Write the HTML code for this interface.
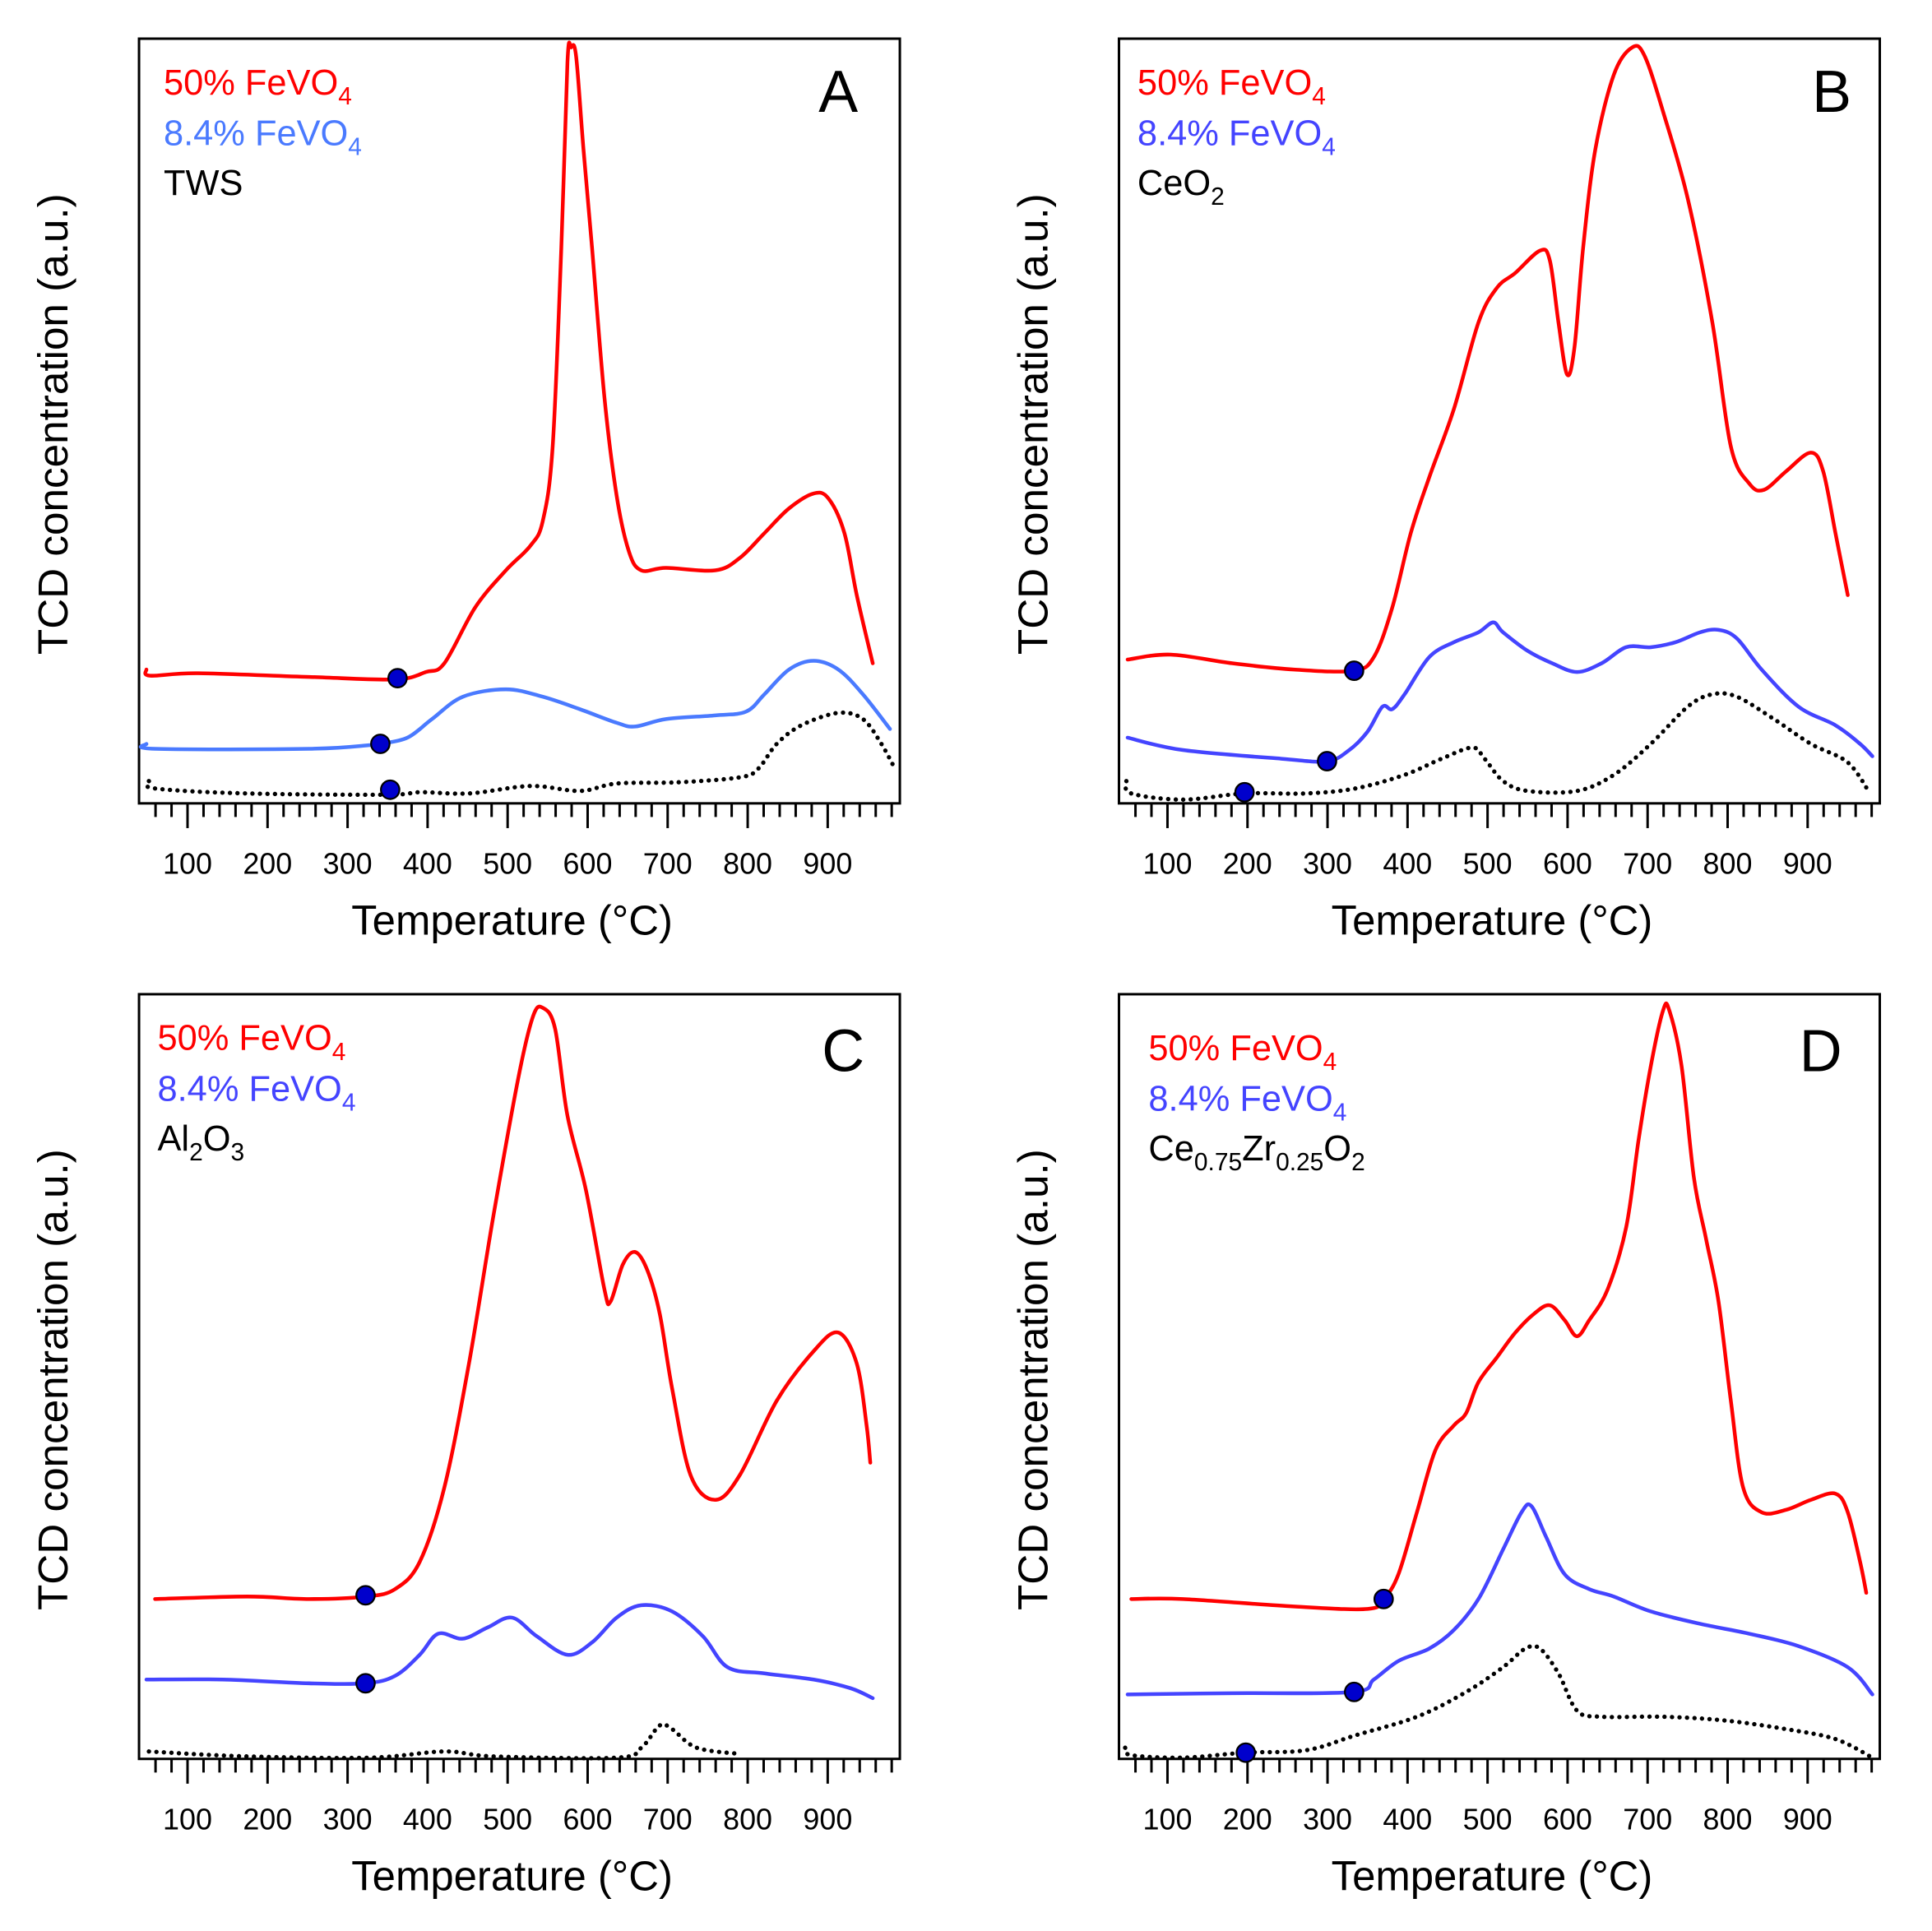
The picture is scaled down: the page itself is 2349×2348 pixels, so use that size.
<!DOCTYPE html>
<html><head><meta charset="utf-8"><style>
html,body{margin:0;padding:0;background:#fff;}
svg{display:block;}
text{font-family:"Liberation Sans",Arial,sans-serif;}
</style></head><body>
<svg width="2349" height="2348" viewBox="0 0 2349 2348" xmlns="http://www.w3.org/2000/svg">
<g id="s" transform="matrix(1.4968 0 0 1.507 1.4 0.3)"></g>
</svg>
<script>
const s=document.getElementById('s');let h='';
const panels=[[0,0],[796,0],[0,771],[796,771]];
function X(T,ox){return 151.4+(T-100)*0.65+ox;}
panels.forEach(([ox,oy])=>{
  h+=`<rect x="${112+ox}" y="${31+oy}" width="${618}" height="${617}" fill="none" stroke="#000" stroke-width="2"/>`;
  for(let T=60;T<=980;T+=20){const x=X(T,ox);const maj=T%100==0;
    h+=`<line x1="${x}" y1="${648+oy}" x2="${x}" y2="${648+oy+(maj?20:11)}" stroke="#000" stroke-width="2"/>`;
    if(maj)h+=`<text x="${x}" y="${705+oy}" font-size="24" text-anchor="middle">${T}</text>`;}
  h+=`<text x="${415+ox}" y="${754+oy}" font-size="34" text-anchor="middle">Temperature (°C)</text>`;
  h+=`<text transform="translate(${54+ox},${342+oy}) rotate(-90)" font-size="34" text-anchor="middle">TCD concentration (a.u.)</text>`;
});
function leg(x,y,col2,third){
  return `<text x="${x}" y="${y}" font-size="29" fill="#f00">50% FeVO<tspan font-size="20" dy="8">4</tspan></text>
  <text x="${x}" y="${y+41}" font-size="29" fill="${col2}">8.4% FeVO<tspan font-size="20" dy="8">4</tspan></text>
  <text x="${x}" y="${y+81}" font-size="29" fill="#000">${third}</text>`;}
h+=leg(132,76,'#4a7aff','TWS');
h+=leg(923,76,'#4444ff','CeO<tspan font-size="20" dy="8">2</tspan>');
h+=leg(127,847,'#4444ff','Al<tspan font-size="20" dy="8">2</tspan><tspan dy="-8">O</tspan><tspan font-size="20" dy="8">3</tspan>');
h+=leg(932,855,'#4444ff','Ce<tspan font-size="20" dy="8">0.75</tspan><tspan dy="-8">Zr</tspan><tspan font-size="20" dy="8">0.25</tspan><tspan dy="-8">O</tspan><tspan font-size="20" dy="8">2</tspan>');
[['A',680,90],['B',1487,90],['C',684,864],['D',1478,864]].forEach(([t,x,y])=>h+=`<text x="${x}" y="${y}" font-size="48" text-anchor="middle">${t}</text>`);
function smooth(str){const p=str.trim().split(/\s+/).map(a=>a.split(',').map(Number));
  let d=`M${p[0][0]},${p[0][1]}`;
  for(let i=0;i<p.length-1;i++){const p0=p[Math.max(0,i-1)],p1=p[i],p2=p[i+1],p3=p[Math.min(p.length-1,i+2)];
    const c1=[p1[0]+(p2[0]-p0[0])/6,p1[1]+(p2[1]-p0[1])/6],c2=[p2[0]-(p3[0]-p1[0])/6,p2[1]-(p3[1]-p1[1])/6];
    d+=` C${c1[0].toFixed(1)},${c1[1].toFixed(1)} ${c2[0].toFixed(1)},${c2[1].toFixed(1)} ${p2[0]},${p2[1]}`;}
  return d;}
function pl(pts,col,dot){return `<path d="${smooth(pts)}" fill="none" stroke="${col}" stroke-width="${dot?3.5:3}" stroke-linejoin="round" stroke-linecap="round" ${dot?'stroke-dasharray="0.1 6"':''}/>`;}
function d(x,y){return `<circle cx="${x}" cy="${y}" r="7.5" fill="#0000cc" stroke="#000" stroke-width="1.5"/>`;}
const R='#ff0000',BA='#4a7aff',B='#4444ff',K='#000';
// A
h+=pl("118,540 121,545 160,543 250,546 320,548 345,542 360,535 385,490 410,460 430,440 440,420 448,360 455,200 460,50 463,38 467,45 473,120 480,200 490,320 500,400 510,445 520,460 540,458 580,460 600,450 620,430 640,410 660,398 672,402 685,430 695,480 708,535",R);
h+=pl("118,600 125,604 250,604 300,601 308,600 330,595 350,580 375,562 410,556 440,562 470,572 500,583 515,586 540,580 580,577 605,574 620,560 640,540 660,533 680,540 700,560 722,588",BA);
h+=pl("120,630 125,636 200,640 314,641 340,639 380,640 430,634 470,638 500,632 550,631 600,627 615,620 630,600 650,585 680,575 700,580 715,600 726,620",K,1);
h+=d(322,547)+d(308,600)+d(316,637);
// B
h+=pl("915,532 950,528 1000,535 1050,540 1098,541 1115,530 1130,490 1145,430 1160,385 1180,330 1200,260 1215,232 1230,220 1250,202 1258,210 1265,260 1272,302 1278,280 1285,200 1295,120 1310,60 1325,38 1335,45 1350,90 1370,160 1390,260 1405,360 1420,390 1432,395 1450,380 1470,365 1480,380 1490,430 1500,480",R);
h+=pl("915,595 960,605 1040,612 1077,614 1095,605 1110,590 1122,570 1130,572 1140,560 1160,530 1180,518 1200,510 1212,502 1220,510 1240,525 1260,535 1280,542 1300,535 1320,522 1340,522 1360,518 1380,510 1395,508 1410,515 1430,540 1460,570 1490,585 1510,600 1520,610",B);
h+=pl("914,630 918,640 960,645 1010,640 1060,640 1100,636 1140,625 1170,612 1195,603 1205,612 1220,630 1240,638 1280,638 1310,625 1340,600 1370,570 1390,560 1410,562 1440,580 1470,600 1500,615 1518,640",K,1);
h+=d(1099,541)+d(1077,614)+d(1010,639);
// C
h+=pl("125,1290 200,1288 250,1290 296,1288 320,1282 340,1260 360,1200 380,1100 400,980 420,870 432,820 440,813 450,830 460,900 475,960 490,1040 495,1050 505,1020 515,1010 525,1025 535,1060 545,1120 560,1190 580,1210 600,1190 630,1130 660,1090 680,1075 695,1100 703,1150 706,1180",R);
h+=pl("118,1355 180,1355 250,1358 296,1358 320,1352 340,1335 355,1318 375,1322 395,1313 415,1305 435,1320 460,1335 480,1325 500,1305 520,1295 545,1300 570,1320 590,1345 620,1350 660,1355 690,1362 708,1370",B);
h+=pl("120,1413 200,1417 300,1418 360,1413 400,1417 500,1418 520,1410 535,1392 545,1395 565,1410 600,1415",K,1);
h+=d(296,1287)+d(296,1358);
// D
h+=pl("918,1290 960,1290 1050,1296 1110,1298 1123,1290 1135,1270 1150,1220 1165,1170 1180,1150 1190,1140 1200,1115 1215,1095 1230,1075 1245,1060 1258,1053 1270,1065 1280,1078 1290,1065 1305,1040 1320,990 1330,920 1340,860 1350,815 1355,815 1365,860 1375,950 1385,1000 1395,1050 1405,1130 1415,1200 1430,1220 1450,1218 1470,1210 1490,1205 1500,1220 1510,1260 1515,1285",R);
h+=pl("915,1367 1000,1366 1098,1365 1115,1355 1135,1340 1160,1330 1180,1315 1200,1290 1220,1250 1235,1220 1243,1215 1255,1240 1270,1270 1290,1282 1310,1288 1340,1300 1380,1310 1420,1318 1460,1328 1500,1345 1520,1367",B);
h+=pl("913,1410 918,1416 960,1418 1010,1414 1060,1412 1100,1400 1150,1385 1190,1365 1220,1345 1238,1330 1250,1330 1265,1350 1280,1380 1300,1385 1350,1385 1400,1388 1450,1395 1490,1403 1520,1418",K,1);
h+=d(1123,1290)+d(1099,1365)+d(1011,1414);
s.innerHTML=h;
</script>
</body></html>
